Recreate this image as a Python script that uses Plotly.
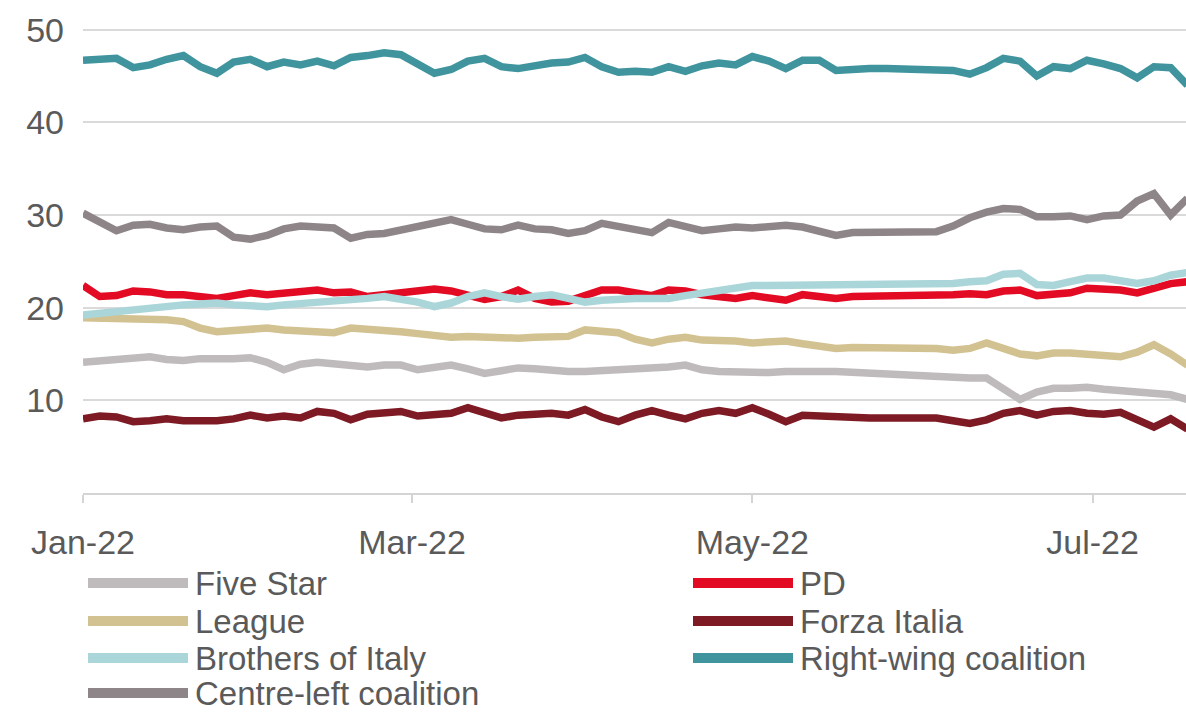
import pandas as pd
import plotly.graph_objects as go

# Poll averages sampled every third day from 1 Jan 2022
dates = pd.date_range("2022-01-01", periods=67, freq="3D")

five_star = [14.1, 14.3, 14.5, 14.6, 14.7, 14.4, 14.3, 14.5, 14.4, 14.5,
             14.6, 14.1, 13.3, 13.9, 14.1, 13.9, 13.7, 13.6, 13.8, 13.8,
             13.3, 13.6, 13.8, 13.4, 12.9, 13.2, 13.5, 13.4, 13.2, 13.1,
             13.1, 13.2, 13.3, 13.4, 13.3, 13.6, 13.8, 13.3, 13.1, 13.0,
             13.0, 13.0, 13.1, 13.0, 13.1, 13.1, 13.0, 12.9, 12.9, 12.8,
             12.8, 12.7, 12.6, 12.4, 12.4, 11.2, 10.1, 10.9, 11.3, 11.3,
             11.4, 11.2, 11.1, 11.0, 10.9, 10.6, 10.1]

pd_party = [22.4, 21.2, 21.3, 21.8, 21.7, 21.4, 21.4, 21.3, 21.0, 21.3,
            21.6, 21.4, 21.6, 21.8, 21.9, 21.6, 21.7, 21.2, 21.4, 21.6,
            21.9, 22.0, 21.8, 21.4, 20.9, 21.2, 21.9, 21.0, 20.6, 20.7,
            21.2, 21.9, 21.9, 21.5, 21.3, 21.9, 21.8, 21.4, 21.2, 21.0,
            21.3, 21.0, 20.8, 21.4, 21.3, 21.0, 21.2, 21.2, 21.2, 21.2,
            21.2, 21.2, 21.4, 21.5, 21.4, 21.8, 21.9, 21.3, 21.4, 21.6,
            22.1, 22.1, 21.9, 21.6, 22.2, 22.6, 22.8]

league = [18.9, 18.9, 18.8, 18.7, 18.7, 18.7, 18.5, 17.8, 17.4, 17.6,
          17.7, 17.8, 17.6, 17.5, 17.4, 17.3, 17.8, 17.7, 17.7, 17.4,
          17.2, 17.0, 16.8, 16.9, 16.8, 16.8, 16.7, 16.8, 16.9, 16.9,
          17.6, 17.5, 17.3, 16.6, 16.2, 16.6, 16.8, 16.5, 16.5, 16.4,
          16.2, 16.3, 16.4, 16.1, 15.8, 15.6, 15.7, 15.7, 15.8, 15.8,
          15.7, 15.6, 15.4, 15.6, 16.2, 15.7, 15.0, 14.8, 15.1, 15.1,
          15.0, 15.0, 14.7, 15.2, 16.0, 15.0, 13.8]

forza_italia = [8.0, 8.3, 8.2, 7.7, 7.8, 8.0, 7.8, 7.7, 7.8, 8.0,
                8.4, 8.1, 8.3, 8.1, 8.8, 8.6, 7.9, 8.5, 8.6, 8.8,
                8.3, 8.4, 8.6, 9.2, 8.6, 8.1, 8.4, 8.5, 8.6, 8.4,
                9.0, 8.2, 7.7, 8.4, 8.9, 8.4, 8.0, 8.6, 8.9, 8.6,
                9.2, 8.5, 7.7, 8.4, 8.3, 8.1, 8.1, 8.1, 8.1, 8.1,
                8.1, 8.1, 7.8, 7.5, 7.9, 8.6, 8.9, 8.4, 8.8, 8.9,
                8.6, 8.5, 8.7, 8.0, 7.1, 8.0, 6.9]

brothers = [19.2, 19.4, 19.5, 19.7, 19.9, 20.1, 20.3, 20.4, 20.5, 20.3,
            20.2, 20.1, 20.3, 20.4, 20.6, 20.6, 20.8, 21.0, 21.2, 21.0,
            20.6, 20.1, 20.5, 21.2, 21.6, 21.2, 20.9, 21.2, 21.4, 21.0,
            20.6, 20.8, 21.0, 21.0, 21.0, 21.0, 21.3, 21.6, 21.8, 22.1,
            22.4, 22.4, 22.4, 22.4, 22.4, 22.4, 22.4, 22.4, 22.4, 22.4,
            22.5, 22.5, 22.6, 22.8, 22.9, 23.6, 23.7, 22.5, 22.4, 22.8,
            23.2, 23.2, 22.9, 22.6, 22.9, 23.5, 23.8]

right_wing = [46.7, 46.8, 46.9, 45.9, 46.2, 46.8, 47.2, 46.0, 45.3, 46.5,
              46.8, 46.0, 46.5, 46.2, 46.6, 46.1, 47.0, 47.2, 47.5, 47.3,
              46.3, 45.3, 45.7, 46.6, 46.9, 46.0, 45.8, 46.2, 46.4, 46.5,
              47.0, 46.0, 45.4, 45.5, 45.4, 46.0, 45.5, 46.1, 46.4, 46.2,
              47.1, 46.6, 45.8, 46.7, 46.7, 45.6, 45.8, 45.8, 45.8, 45.8,
              45.8, 45.8, 45.6, 45.2, 45.9, 46.9, 46.6, 45.0, 46.0, 45.8,
              46.7, 46.3, 45.8, 44.8, 46.0, 45.9, 44.0]

centre_left = [30.2, 29.2, 28.3, 28.9, 29.0, 28.6, 28.4, 28.7, 28.8, 27.6,
               27.4, 27.8, 28.5, 28.8, 28.8, 28.6, 27.5, 27.9, 28.0, 28.4,
               28.8, 29.3, 29.5, 29.0, 28.5, 28.4, 28.9, 28.5, 28.4, 28.0,
               28.3, 29.1, 28.8, 28.3, 28.1, 29.2, 28.7, 28.3, 28.5, 28.7,
               28.6, 28.7, 28.9, 28.7, 28.3, 27.8, 28.1, 28.1, 28.1, 28.1,
               28.1, 28.2, 28.8, 29.7, 30.3, 30.7, 30.6, 29.8, 29.8, 29.9,
               29.5, 29.9, 30.0, 31.5, 32.3, 30.0, 31.8]

month_ticks = ["2022-01-01", "2022-03-01", "2022-05-01", "2022-07-01"]
month_labels = ["Jan-22", "Mar-22", "May-22", "Jul-22"]
y_ticks = [10, 20, 30, 40, 50]

series = [
    ("Five Star", five_star, "#bfbbbd"),
    ("PD", pd_party, "#e30a24"),
    ("League", league, "#d3c291"),
    ("Forza Italia", forza_italia, "#7d1a23"),
    ("Brothers of Italy", brothers, "#abd6d9"),
    ("Right-wing coalition", right_wing, "#3f949e"),
    ("Centre-left coalition", centre_left, "#8e8589"),
]

FONT = "Liberation Sans, Arial, sans-serif"
TEXT = "#5a5a5a"
FS = 34

fig = go.Figure()
for name, vals, col in series:
    fig.add_trace(go.Scatter(x=dates, y=vals, name=name, mode="lines",
                             line=dict(color=col, width=7.5), showlegend=False))

# Two-column legend below the plot (left column first, then right)
W, H = 1186, 712
L, B = 83, 219
pw, ph = W - L, H - B


def px_x(p):
    return (p - L) / pw


def px_y(p):
    return (H - B - p) / ph


legend_layout = [
    ("Five Star", 88, 583), ("League", 88, 621),
    ("Brothers of Italy", 88, 658), ("Centre-left coalition", 88, 693),
    ("PD", 693, 583), ("Forza Italia", 693, 621),
    ("Right-wing coalition", 693, 658),
]
colours = {n: c for n, _, c in series}
for name, lx, ly in legend_layout:
    fig.add_shape(type="line", xref="paper", yref="paper",
                  x0=px_x(lx), x1=px_x(lx + 100), y0=px_y(ly), y1=px_y(ly),
                  line=dict(color=colours[name], width=10))
    fig.add_annotation(xref="paper", yref="paper", x=px_x(lx + 106), y=px_y(ly),
                       text=name, showarrow=False, xanchor="left", yanchor="middle",
                       borderpad=0,
                       font=dict(family=FONT, size=33, color=TEXT))

fig.update_layout(
    width=W, height=H,
    margin=dict(l=L, r=0, t=0, b=B),
    paper_bgcolor="white", plot_bgcolor="white",
    font=dict(family=FONT, size=FS, color=TEXT),
    xaxis=dict(
        range=["2022-01-01", "2022-07-17 18:00"],
        tickvals=month_ticks, ticktext=month_labels,
        showgrid=False, showline=True, linecolor="#d4d4d4", linewidth=2,
        ticks="outside", ticklen=8, tickwidth=2, tickcolor="#d4d4d4",
        ticklabelstandoff=10, zeroline=False,
    ),
    yaxis=dict(
        range=[0, 53.2], tickvals=y_ticks,
        showgrid=True, gridcolor="#dadada", gridwidth=2,
        showline=False, zeroline=False, ticks="",
        ticklabelstandoff=18,
    ),
)

fig.write_html("out.html")
